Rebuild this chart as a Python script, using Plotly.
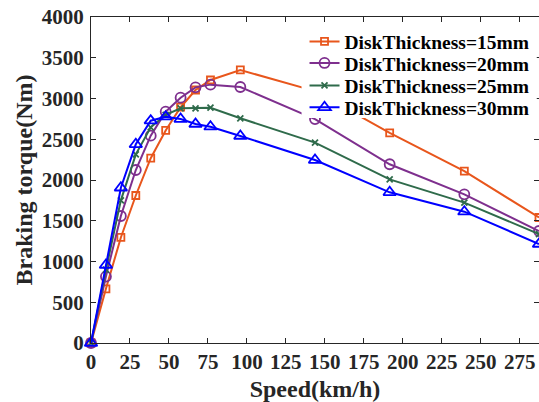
import plotly.graph_objects as go

speed = [0, 9.58, 19.16, 28.74, 38.32, 47.9, 57.48, 67.06, 76.64, 95.8, 143.7, 191.6, 239.5, 287.4]
t15 = [0, 665, 1295, 1810, 2268, 2608, 2893, 3104, 3227, 3350, 3090, 2577, 2110, 1540]
t20 = [0, 815, 1558, 2123, 2544, 2838, 3010, 3137, 3170, 3141, 2748, 2193, 1824, 1374]
t25 = [0, 900, 1750, 2315, 2646, 2800, 2879, 2879, 2887, 2757, 2458, 2008, 1722, 1337]
t30 = [0, 957, 1905, 2438, 2728, 2777, 2748, 2687, 2654, 2540, 2245, 1849, 1611, 1215]
names = ["DiskThickness=15mm", "DiskThickness=20mm", "DiskThickness=25mm", "DiskThickness=30mm"]

colors = ["#E8561C", "#7E2F8E", "#2F6B4B", "#0000FF"]
symbols = ["square-open", "circle-open", "x-thin-open", "triangle-up-open"]
msizes = [7, 10, 6, 11]
legend_ids = ["legend", "legend2", "legend3", "legend4"]
legend_y = [0.924, 0.858, 0.789, 0.722]

font_family = "Liberation Serif, Times New Roman, serif"

fig = go.Figure()
for ys, nm, c, s, ms, lg in zip([t15, t20, t25, t30], names, colors, symbols, msizes, legend_ids):
    fig.add_trace(go.Scatter(
        x=speed, y=ys, name=nm, mode="lines+markers",
        line=dict(color=c, width=2),
        marker=dict(symbol=s, size=ms, color=c, line=dict(color=c, width=1.8)),
        cliponaxis=False, legend=lg,
    ))

axis_common = dict(
    showgrid=False, zeroline=False, showline=True, linecolor="#262626", linewidth=1,
    mirror="ticks", ticks="inside", ticklen=5, tickcolor="#262626",
    tickfont=dict(family=font_family, size=21, color="#262626", weight="bold"),
)
legends = {}
for lg, ly in zip(legend_ids, legend_y):
    legends[lg] = dict(x=0.99, y=ly, xanchor="right", yanchor="middle",
                       bgcolor="rgba(0,0,0,0)", borderwidth=0,
                       font=dict(family=font_family, size=19.5, color="black", weight="bold"),
                       itemwidth=30)

# white backdrop behind the legend block
fig.add_shape(type="rect", xref="paper", yref="paper", x0=0.47, x1=0.995, y0=0.69, y1=0.96,
              fillcolor="white", line=dict(width=0), layer="above")

fig.update_layout(
    width=539, height=402,
    margin=dict(l=91, r=0, t=17, b=59),
    paper_bgcolor="white", plot_bgcolor="white",
    font=dict(family=font_family, color="#262626"),
    xaxis=dict(range=[0, 287.4], dtick=25, tick0=0,
               title=dict(text="<b>Speed(km/h)</b>", font=dict(size=24, family=font_family), standoff=7),
               **axis_common),
    yaxis=dict(range=[0, 4000], dtick=500, tick0=0, ticklabelstandoff=2,
               title=dict(text="<b>Braking torque(Nm)</b>", font=dict(size=24, family=font_family), standoff=2),
               **axis_common),
    showlegend=True,
    **legends,
)
fig.write_html("out.html")
